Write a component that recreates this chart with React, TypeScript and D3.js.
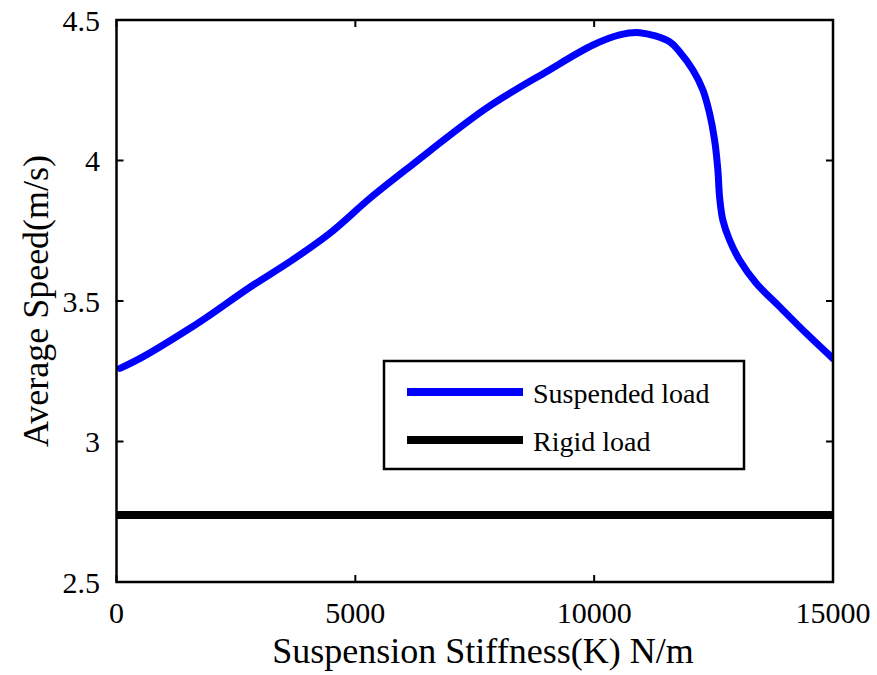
import React from "react";
import * as d3 from "d3";

const stiffness = [73, 561, 1538, 1956, 2793, 3630, 4467, 5303, 6140, 7745, 9000, 9975, 10533, 10951, 11579, 11788, 12067, 12276, 12416, 12521, 12590, 12625, 12694, 12834, 13043, 13393, 13880, 14439, 15000];
const suspendedSpeed = [3.26, 3.302, 3.403, 3.45, 3.549, 3.64, 3.741, 3.865, 3.978, 4.186, 4.316, 4.411, 4.447, 4.455, 4.423, 4.387, 4.322, 4.251, 4.168, 4.073, 3.966, 3.871, 3.788, 3.717, 3.646, 3.563, 3.48, 3.385, 3.295];
const rigidK = [0, 15000];
const rigidSpeed = [2.738, 2.738];
const xTicks = [0, 5000, 10000, 15000];
const yTicks = [2.5, 3, 3.5, 4, 4.5];
const legendLabels = ["Suspended load", "Rigid load"];
const legendColors = ["#0000ff", "#000000"];

const W = 877, H = 675;
const L = 116.5, R = 833, T = 20, B = 582;
const FONT = "\"Liberation Serif\", \"DejaVu Serif\", \"Times New Roman\", Times, serif";

export default function App() {
  const x = d3.scaleLinear().domain([0, 15000]).range([L, R]);
  const y = d3.scaleLinear().domain([2.5, 4.5]).range([B, T]);
  const line = d3.line<[number, number]>().x(d => x(d[0])).y(d => y(d[1])).curve(d3.curveCatmullRom.alpha(0.5));
  const susp = line(stiffness.map((k, i) => [k, suspendedSpeed[i]] as [number, number])) || "";
  const rigid = line(rigidK.map((k, i) => [k, rigidSpeed[i]] as [number, number])) || "";
  const tl = 7;
  const ts = { fontFamily: FONT };
  return (
    <svg width={W} height={H} style={{ position: "absolute", left: 0, top: 0, background: "#fff", fontFamily: FONT }}>
      <rect x={0} y={0} width={W} height={H} fill="#fff" />
      <defs>
        <clipPath id="clip"><rect x={L} y={T} width={R - L} height={B - T} /></clipPath>
      </defs>
      <g clipPath="url(#clip)">
        <path d={rigid} stroke="#000" strokeWidth={8} fill="none" />
        <path d={susp} stroke="#0000ff" strokeWidth={7} fill="none" strokeLinejoin="round" strokeLinecap="round" />
      </g>
      {xTicks.map(t => (
        <g key={"x" + t}>
          <line x1={x(t)} x2={x(t)} y1={B} y2={B - tl} stroke="#000" strokeWidth={2} />
          <line x1={x(t)} x2={x(t)} y1={T} y2={T + tl} stroke="#000" strokeWidth={2} />
          <text style={ts} x={x(t)} y={623} textAnchor="middle" fontSize={30} fill="#000">{t}</text>
        </g>
      ))}
      {yTicks.map(t => (
        <g key={"y" + t}>
          <line x1={L} x2={L + tl} y1={y(t)} y2={y(t)} stroke="#000" strokeWidth={2} />
          <line x1={R} x2={R - tl} y1={y(t)} y2={y(t)} stroke="#000" strokeWidth={2} />
          <text style={ts} x={100} y={y(t)} dy="0.35em" textAnchor="end" fontSize={30} fill="#000">{t}</text>
        </g>
      ))}
      <rect x={L} y={T} width={R - L} height={B - T} fill="none" stroke="#000" strokeWidth={2.5} />
      <text style={ts} x={483} y={663} textAnchor="middle" fontSize={36} fill="#000">Suspension Stiffness(K) N/m</text>
      <text style={ts} transform={`translate(48, ${(T + B) / 2}) rotate(-90)`} textAnchor="middle" fontSize={36} fill="#000">Average Speed(m/s)</text>
      <g>
        <rect x={384} y={361} width={360} height={108} fill="#fff" stroke="#000" strokeWidth={2.5} />
        {legendLabels.map((lab, i) => (
          <g key={lab}>
            <line x1={407} x2={523} y1={392 + i * 48} y2={392 + i * 48} stroke={legendColors[i]} strokeWidth={8} />
            <text style={ts} x={533} y={403 + i * 48} fontSize={28} fill="#000">{lab}</text>
          </g>
        ))}
      </g>
    </svg>
  );
}
